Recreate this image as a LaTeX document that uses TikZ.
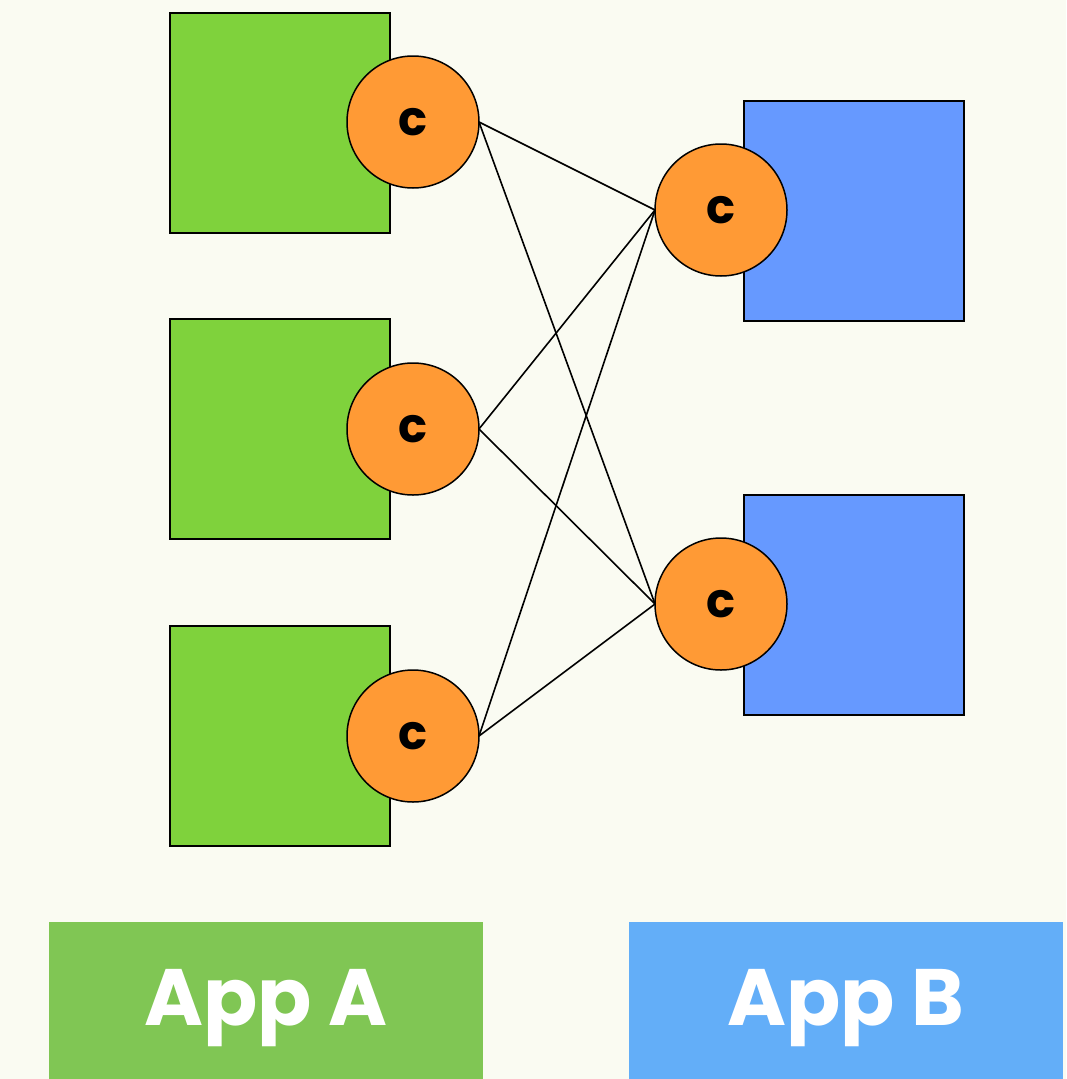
\documentclass[tikz,border=0pt]{standalone}
\usepackage{fontspec}
\newfontfamily\poppins{Poppins}
\definecolor{bgcol}{HTML}{FAFBF2}
\definecolor{appagreen}{HTML}{7FD23C}
\definecolor{appbblue}{HTML}{6699FF}
\definecolor{compor}{HTML}{FF9A35}
\definecolor{labelgreen}{HTML}{80C654}
\definecolor{labelblue}{HTML}{63AEF8}
\begin{document}
\begin{tikzpicture}[x=1pt,y=-1pt,
  sqa/.style={draw, line width=1.5pt, fill=appagreen, minimum size=220pt, inner sep=0pt},
  sqb/.style={draw, line width=1.5pt, fill=appbblue, minimum size=220pt, inner sep=0pt},
  comp/.style={circle, draw, line width=1.5pt, fill=compor, minimum size=132pt, inner sep=0pt,
    font=\poppins\bfseries\fontsize{48}{48}\selectfont},
  applabel/.style={minimum width=434pt, minimum height=157pt, inner sep=0pt, text=white,
    text height=60pt, text depth=11pt,
    font=\poppins\bfseries\fontsize{80}{80}\selectfont}]
\fill[bgcol] (0,0) rectangle (1066,1079);
\useasboundingbox (0,0) rectangle (1066,1079);
% app A
\node[sqa] (sa0) at (280,123){};
\node[sqa] (sa1) at (280,429){};
\node[sqa] (sa2) at (280,736){};
% app B
\node[sqb] (sb0) at (854,211){};
\node[sqb] (sb1) at (854,605){};
% links
\coordinate (pa0) at (479,122);
\coordinate (pa1) at (479,429);
\coordinate (pa2) at (479,736);
\coordinate (pb0) at (655,210);
\coordinate (pb1) at (655,604);
\draw[line width=1.6pt](pa0) -- (pb0);
\draw[line width=1.6pt](pa0) -- (pb1);
\draw[line width=1.6pt](pa1) -- (pb0);
\draw[line width=1.6pt](pa1) -- (pb1);
\draw[line width=1.6pt](pa2) -- (pb0);
\draw[line width=1.6pt](pa2) -- (pb1);
% components
\node[comp] (ca0) at (413,122){c};
\node[comp] (ca1) at (413,429){c};
\node[comp] (ca2) at (413,736){c};
\node[comp] (cb0) at (721,210){c};
\node[comp] (cb1) at (721,604){c};
% labels
\node[applabel, fill=labelgreen] (la) at (266,1000.5){App A};
\node[applabel, fill=labelblue] (lb) at (846,1000.5){App B};
\end{tikzpicture}
\end{document}
